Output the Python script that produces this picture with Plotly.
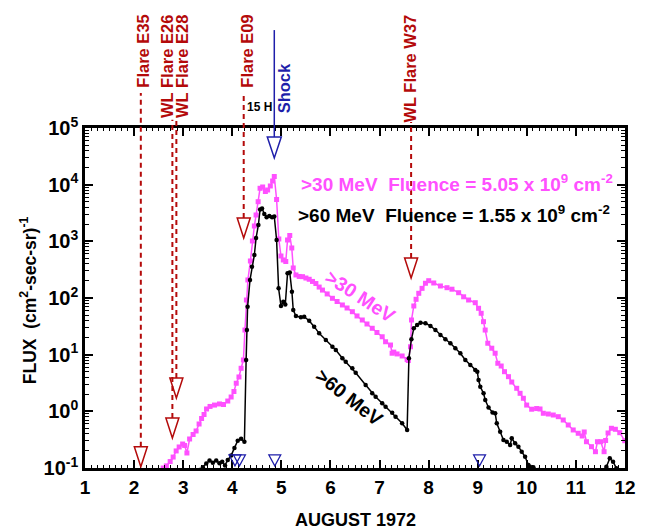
import math
import plotly.graph_objects as go

# ---------------- data ----------------
p30_day = [2.593,2.658,2.735,2.796,2.857,2.918,2.989,3.030,3.076,3.131,
           3.202,3.263,3.324,3.375,3.425,3.476,3.547,3.638,3.740,3.821,
           3.908,3.977,4.034,4.081,4.136,4.180,4.227,4.258,4.288,4.318,
           4.369,4.410,4.450,4.485,4.527,4.566,4.619,4.674,4.720,4.775,
           4.822,4.856,4.903,4.948,4.992,5.039,5.090,5.126,5.171,5.212,
           5.242,5.297,5.364,5.431,5.500,5.567,5.634,5.703,5.770,5.837,
           5.933,6.040,6.135,6.243,6.338,6.446,6.541,6.648,6.744,6.851,
           6.947,7.054,7.123,7.223,7.256,7.290,7.357,7.460,7.562,7.586,
           7.631,7.651,7.698,7.744,7.799,7.866,7.935,8.002,8.104,8.240,
           8.374,8.475,8.611,8.713,8.814,8.950,9.017,9.070,9.118,9.152,
           9.205,9.286,9.355,9.409,9.478,9.545,9.626,9.693,9.794,9.863,
           9.930,9.997,10.099,10.200,10.269,10.336,10.438,10.539,10.641,10.742,
           10.844,10.945,11.047,11.128,11.169,11.215,11.317,11.398,11.439,11.506,
           11.574,11.605,11.655,11.723,11.804,11.893,11.995]
p30_flux = [0.100,0.109,0.130,0.156,0.200,0.235,0.265,0.250,0.184,0.325,
            0.390,0.450,0.598,0.748,0.879,1.10,1.22,1.29,1.35,1.32,
            1.52,1.79,2.24,3.13,4.04,5.75,8.05,27.2,92.2,208,
            450,1014,1866,2915,5005,8630,9100,7575,8050,9480,
            11600,13930,5470,1100,551,469,441,1056,1268,763,
            339,255,240,238,225,214,196,180,156,138,
            118,98.8,86.8,75.3,66.6,57.3,48.2,40.9,34.8,29.2,
            24.6,20.7,16.9,14.8,10.6,11.1,10.3,9.48,8.22,7.89,
            13.8,40.9,72.3,94.9,121,148,182,202,184,163,
            152,143,124,105,92.2,82.6,65.8,53.7,38.2,27.2,
            15.9,13.0,10.6,7.05,6.31,5.01,4.09,3.29,2.55,2.08,
            1.70,1.29,1.09,1.12,1.10,0.924,0.897,0.861,0.805,0.703,
            0.574,0.469,0.410,0.367,0.432,0.291,0.238,0.194,0.291,0.291,
            0.194,0.306,0.415,0.502,0.482,0.420,0.303]

p60_day = [3.334,3.401,3.470,3.537,3.604,3.673,3.740,3.795,3.852,3.908,
           3.977,4.044,4.111,4.180,4.247,4.282,4.298,4.312,4.361,4.401,
           4.450,4.485,4.532,4.566,4.607,4.653,4.700,4.755,4.810,4.856,
           4.903,4.944,4.992,5.039,5.080,5.126,5.171,5.215,5.242,5.297,
           5.398,5.465,5.567,5.668,5.770,5.906,6.040,6.109,6.243,6.311,
           6.446,6.514,6.717,6.851,6.920,7.054,7.123,7.257,7.326,7.460,
           7.562,7.598,7.649,7.698,7.765,7.834,7.935,8.037,8.138,8.240,
           8.341,8.443,8.544,8.646,8.747,8.849,8.950,8.991,9.017,9.052,
           9.119,9.153,9.220,9.301,9.356,9.388,9.457,9.524,9.591,9.660,
           9.693,9.762,9.829,9.896,9.965,10.032,10.066,10.133,10.235,None,
           11.621,11.690,11.757,11.824,11.858]
p60_flux = [0.092,0.103,0.120,0.135,0.124,0.135,0.121,0.129,0.111,0.139,
            0.166,0.226,0.302,0.328,0.291,8.05,27.2,70.3,208,357,
            574,1146,1942,3645,3795,3036,2656,2800,2656,2742,
            1056,148,72.3,86.1,76.8,273,282,129,61.4,48.2,
            45.7,46.8,39.8,31.2,23.8,18.2,13.8,12.1,8.63,7.52,
            5.75,4.81,2.92,2.08,1.81,1.39,1.21,0.946,0.805,0.615,
            0.469,8.63,18.7,29.2,33.4,36.7,35.8,32.1,27.2,22.2,
            18.7,15.9,13.0,10.6,8.05,6.58,5.37,5.01,3.57,2.72,
            2.08,1.58,1.17,0.955,0.924,0.615,0.437,0.312,0.291,0.255,
            0.334,0.273,0.238,0.194,0.158,0.113,0.105,0.103,0.092,None,
            0.105,0.148,0.129,0.099,0.087]

# flare events (day, arrow-tip flux)
flare_names = ["Flare E35", "WL Flare E26", "WL Flare E28", "Flare E09", "WL Flare W37"]
flare_day = [2.137, 2.780, 2.861, 4.233, 7.643]
flare_tip_flux = [0.105, 0.339, 1.72, 1146, 225]

shock_name = "Shock"
shock_day = 4.856
shock_tip_flux = 29600

sc_day = [4.055, 4.146, 4.866, 9.037]
sc_tip_flux = [0.109, 0.109, 0.109, 0.109]

x_ticks = list(range(1, 13))
y_tick_exp = [-1, 0, 1, 2, 3, 4, 5]

label_30 = ">30 MeV\u00a0\u00a0Fluence = 5.05 x 10<sup>9</sup> cm<sup>-2</sup>"
label_60 = ">60 MeV\u00a0\u00a0Fluence = 1.55 x 10<sup>9</sup> cm<sup>-2</sup>"
y_title = "FLUX\u00a0\u00a0(cm<sup>2</sup>-sec-sr)<sup>-1</sup>"
x_title = "AUGUST 1972"

# ---------------- style ----------------
FONT = "Liberation Sans, Arial, Helvetica, sans-serif"
MAG = "#ff50ff"
RED = "#b40a0a"
BLUE = "#1e1eaa"
# page body adds an 8px offset; figure sized so the plot box lands at 85..627 x 128..468
W, H = 640, 524
ML, MR, MT, MB = 77, 21, 120, 64
PH = H - MT - MB
PW = W - ML - MR


def paper_y(flux):
    return (math.log10(flux) + 1) / 6.0


fig = go.Figure()
fig.add_trace(go.Scatter(x=p30_day, y=p30_flux, mode="lines+markers",
                         line=dict(color=MAG, width=1.5),
                         marker=dict(symbol="square", size=5, color=MAG),
                         connectgaps=False, showlegend=False))
fig.add_trace(go.Scatter(x=p60_day, y=p60_flux, mode="lines+markers",
                         line=dict(color="black", width=1.5),
                         marker=dict(symbol="circle", size=4.5, color="black"),
                         connectgaps=False, showlegend=False))

shapes = []


def tri(xv, yv, hw, h, color, width=1.5):
    return dict(type="path", xref="x", yref="y", xsizemode="pixel", ysizemode="pixel",
                xanchor=xv, yanchor=yv,
                path=f"M {-hw},{h} L {hw},{h} L 0,0 Z",
                line=dict(color=color, width=width), fillcolor="rgba(0,0,0,0)")


tops = [1.103, 1.024, 1.024, 1.103, 1.018]
for d, f, t in zip(flare_day, flare_tip_flux, tops):
    shapes.append(tri(d, f, 6.5, 20, RED))
    shapes.append(dict(type="line", xref="x", yref="paper", x0=d, x1=d,
                       y0=paper_y(f) + 20.0 / PH, y1=t,
                       line=dict(color=RED, width=2, dash="5px,4px")))

shapes.append(tri(shock_day, shock_tip_flux, 7, 21, BLUE))
shapes.append(dict(type="line", xref="x", yref="paper", x0=shock_day, x1=shock_day,
                   y0=paper_y(shock_tip_flux) + 21.0 / PH, y1=1.288,
                   line=dict(color=BLUE, width=1.5)))
for d, f in zip(sc_day, sc_tip_flux):
    shapes.append(tri(d, f, 6, 11, BLUE, 1.2))

annotations = []
label_x = [2.183, 2.658, 2.963, 4.282, 7.631]
for name, lx in zip(flare_names, label_x):
    annotations.append(dict(text=name, x=lx, y=1.338, xref="x", yref="paper",
                            textangle=-90, showarrow=False, xanchor="center", yanchor="top",
                            font=dict(family=FONT, size=16.5, color=RED, weight="bold")))
annotations.append(dict(text=shock_name, x=5.059, y=1.038, xref="x", yref="paper",
                        textangle=-90, showarrow=False, xanchor="center", yanchor="bottom",
                        font=dict(family=FONT, size=16.5, color=BLUE, weight="bold")))
annotations.append(dict(text="15 H", x=4.552, y=1.062, xref="x", yref="paper",
                        showarrow=False, xanchor="center", yanchor="middle",
                        font=dict(family=FONT, size=12, color="black", weight="bold")))
annotations.append(dict(text=label_30, x=5.364, y=4.029, xref="x", yref="y",
                        showarrow=False, xanchor="left", yanchor="middle",
                        font=dict(family=FONT, size=19, color=MAG, weight="bold")))
annotations.append(dict(text=label_60, x=5.30, y=3.482, xref="x", yref="y",
                        showarrow=False, xanchor="left", yanchor="middle",
                        font=dict(family=FONT, size=19, color="black", weight="bold")))
annotations.append(dict(text=">30 MeV", x=6.602, y=2.035, xref="x", yref="y",
                        textangle=33, showarrow=False,
                        font=dict(family=FONT, size=19.5, color=MAG, weight="bold")))
annotations.append(dict(text=">60 MeV", x=6.379, y=0.253, xref="x", yref="y",
                        textangle=38, showarrow=False,
                        font=dict(family=FONT, size=19.5, color="black", weight="bold")))
# axis titles placed as annotations for exact position
annotations.append(dict(text=y_title, x=-(85 - 28) / PW, y=(468 - 300) / PH,
                        xref="paper", yref="paper", textangle=-90, showarrow=False,
                        xanchor="center", yanchor="middle",
                        font=dict(family=FONT, size=17.5, color="black", weight="bold")))
annotations.append(dict(text=x_title, x=0.5, y=-(520 - 468) / PH,
                        xref="paper", yref="paper", showarrow=False,
                        xanchor="center", yanchor="middle",
                        font=dict(family=FONT, size=18, color="black", weight="bold")))

y_minor = [k * 10 ** e for e in range(-1, 5) for k in range(2, 10)]

fig.update_layout(
    width=W, height=H,
    margin=dict(l=ML, r=MR, t=MT, b=MB),
    paper_bgcolor="white", plot_bgcolor="white",
    shapes=shapes, annotations=annotations,
    showlegend=False,
    xaxis=dict(range=[1, 12], tickmode="array", tickvals=x_ticks,
               ticktext=[str(v) for v in x_ticks],
               ticks="inside", ticklen=8, tickwidth=1.5, tickcolor="black",
               minor=dict(tick0=1, dtick=0.125, ticks="inside", ticklen=3, tickwidth=1,
                          tickcolor="black"),
               showline=True, linewidth=2.5, linecolor="black", mirror="allticks",
               showgrid=False, zeroline=False,
               tickfont=dict(family=FONT, size=19, color="black", weight="bold")),
    yaxis=dict(type="log", range=[-1, 5], tickmode="array",
               tickvals=[10 ** e for e in y_tick_exp],
               ticktext=[f"10<sup>{e}</sup>" for e in y_tick_exp],
               ticks="inside", ticklen=8, tickwidth=1.5, tickcolor="black",
               minor=dict(tickmode="array", tickvals=y_minor, ticks="inside", ticklen=4,
                          tickwidth=1, tickcolor="black"),
               showline=True, linewidth=2.5, linecolor="black", mirror="allticks",
               showgrid=False, zeroline=False,
               tickfont=dict(family=FONT, size=20, color="black", weight="bold")),
)

fig.write_html("out.html")
